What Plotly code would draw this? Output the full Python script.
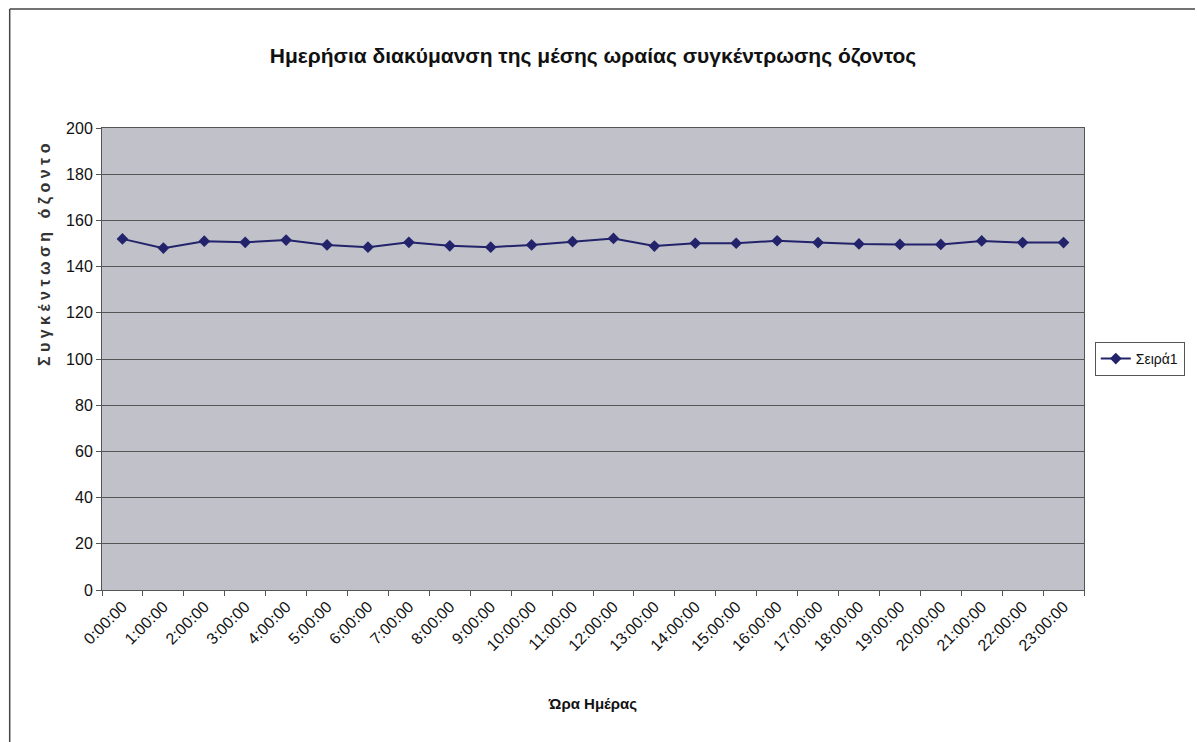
import plotly.graph_objects as go

# Hourly average ozone concentration over the day
hours = ["0:00:00", "1:00:00", "2:00:00", "3:00:00", "4:00:00", "5:00:00",
         "6:00:00", "7:00:00", "8:00:00", "9:00:00", "10:00:00", "11:00:00",
         "12:00:00", "13:00:00", "14:00:00", "15:00:00", "16:00:00", "17:00:00",
         "18:00:00", "19:00:00", "20:00:00", "21:00:00", "22:00:00", "23:00:00"]
ozone = [152, 148, 151, 150.5, 151.5, 149.4, 148.4, 150.5, 149, 148.4, 149.4, 150.8,
         152.2, 148.9, 150.1, 150.1, 151.2, 150.4, 149.8, 149.6, 149.6, 151.1, 150.4, 150.4]
y_ticks = [0, 20, 40, 60, 80, 100, 120, 140, 160, 180, 200]

navy = "#23236b"
font_main = "Liberation Sans, Arial, sans-serif"

fig = go.Figure()
fig.add_trace(go.Scatter(
    x=hours, y=ozone, name="Σειρά1", mode="lines+markers",
    line=dict(color=navy, width=2),
    marker=dict(symbol="diamond", size=9, color=navy),
))

fig.update_layout(
    width=1197, height=742,
    margin=dict(l=102, r=107, t=128, b=152),
    paper_bgcolor="white",
    plot_bgcolor="#c0c1c9",
    title=dict(
        text="<b>Ημερήσια διακύμανση της μέσης ωραίας συγκέντρωσης όζοντος</b>",
        x=0.5, xref="paper", y=0.925, yanchor="middle",
        font=dict(family=font_main, size=21, color="#111"),
    ),
    font=dict(family=font_main, size=15, color="#111"),
    xaxis=dict(
        type="category", range=[-0.5, 23.5], tickangle=-45, tickson="boundaries",
        ticks="outside", ticklen=5, tickcolor="#555",
        showgrid=False, showline=True, linecolor="#555", linewidth=1, mirror=True,
        tickfont=dict(family=font_main, size=16),
        title=dict(text="<b>Ώρα Ημέρας</b>", standoff=45,
                   font=dict(family=font_main, size=15)),
    ),
    yaxis=dict(
        range=[0, 200], tickvals=y_ticks, ticks="outside", ticklen=5,
        tickcolor="#555", showgrid=True, gridcolor="#555", gridwidth=1,
        showline=True, linecolor="#555", linewidth=1, mirror=True,
        zeroline=False,
        tickfont=dict(family=font_main, size=16),
    ),
    legend=dict(
        x=1.011, xanchor="left", y=0.5, yanchor="middle",
        bordercolor="#555", borderwidth=1, bgcolor="white",
        font=dict(family=font_main, size=14),
        itemwidth=30,
    ),
    showlegend=True,
)

# Vertical axis title, set higher up along the axis
fig.add_annotation(
    text="<b>Σ υ γ κ έ ν τ ω σ η   ό ζ ο ν τ ο</b>",
    xref="paper", yref="paper", x=-0.058, y=0.725,
    textangle=-90, showarrow=False, xanchor="center", yanchor="middle",
    font=dict(family=font_main, size=16, color="#333"),
)

# Chart frame lines along the left and top edges
fig.add_shape(type="line", xref="paper", yref="paper",
              x0=-0.094, x1=-0.094, y0=-0.33, y1=1.2576,
              line=dict(color="#444", width=1.5))
fig.add_shape(type="line", xref="paper", yref="paper",
              x0=-0.094, x1=1.113, y0=1.2576, y1=1.2576,
              line=dict(color="#444", width=1.5))

fig.write_html("out.html")
